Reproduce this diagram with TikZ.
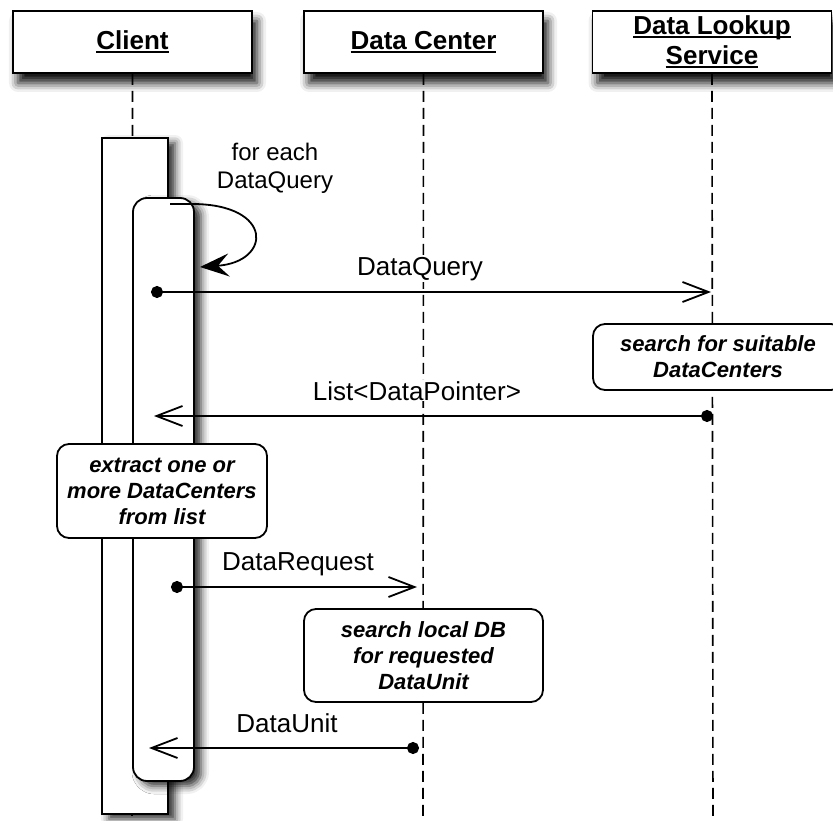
\documentclass[tikz,border=0pt]{standalone}
\usepackage{fontspec}
\setmainfont{Liberation Sans}
\usetikzlibrary{arrows.meta,shadows.blur}

% underlined header text
\newcommand{\hdrline}[1]{\setbox0\hbox{#1}\rlap{\rule[-3pt]{\wd0}{1.5pt}}\box0}

\begin{document}
\begin{tikzpicture}[x=1pt,y=-1pt,
    head/.style={draw,line width=1.8pt,fill=white,minimum width=239pt,minimum height=62pt,
      inner sep=0pt,align=center,font=\fontsize{26}{30}\selectfont\bfseries,
      blur shadow={shadow xshift=5pt,shadow yshift=-10pt,shadow blur radius=9pt,shadow opacity=95}},
    life/.style={line width=1.6pt,dash pattern=on 11pt off 6pt},
    bar/.style={draw,line width=1.8pt,fill=white,inner sep=0pt,
      blur shadow={shadow xshift=7pt,shadow yshift=-5pt,shadow blur radius=8pt,shadow opacity=85}},
    note/.style={draw,line width=1.8pt,fill=white,rounded corners=12pt,align=center,inner sep=0pt,
      font=\fontsize{22}{26}\selectfont\bfseries\itshape},
    msg/.style={line width=1.8pt,{Circle[length=12pt]}-{Straight Barb[length=26pt,width=20pt]}},
    lbl/.style={fill=white,inner sep=1pt,anchor=base,font=\fontsize{26}{30}\selectfont}]
    \useasboundingbox (0,0) rectangle (833,821);

    % lifeline heads
    \node[head] (cl) at (132.5,42) {\hdrline{Client}};
    \node[head] (dc) at (423.5,42) {\hdrline{Data Center}};
    \node[head] (dls) at (712,42) {\hdrline{Data Lookup}\\\hdrline{Service}};
    \coordinate (cl-end) at (132,821);
    \coordinate (dc-end) at (423,821);
    \coordinate (dls-end) at (713,821);
    \draw[life] (cl.south) -- (cl-end);
    \draw[life] (dc.south) -- (dc-end);
    \draw[life] (dls.south) -- (dls-end);

    % activations on the client
    \node[bar,minimum width=66pt,minimum height=676pt] (act) at (135,476) {};
    \node[bar,rounded corners=14pt,minimum width=61pt,minimum height=583pt] (loop) at (163.5,489.5) {};

    % self call, one per query
    \coordinate (loop-a) at (170,204);
    \coordinate (loop-b) at (200,267);
    \draw[line width=1.8pt,-{Stealth[length=29pt,width=23pt,inset=11pt]}]
        (loop-a) -- ++(22,0) .. controls (274,204) and (272,262) .. (loop-b);
    \node[align=center,font=\fontsize{24}{28}\selectfont] (each) at (275,168) {for each\\DataQuery};

    % messages
    \coordinate (q-from) at (151,292);
    \coordinate (q-to) at (711,292);
    \coordinate (p-from) at (713,416);
    \coordinate (p-to) at (154,416);
    \coordinate (r-from) at (171,587);
    \coordinate (r-to) at (417,587);
    \coordinate (u-from) at (419,748);
    \coordinate (u-to) at (149,748);
    \draw[msg] (q-from) -- (q-to);
    \draw[msg] (p-from) -- (p-to);
    \draw[msg] (r-from) -- (r-to);
    \draw[msg] (u-from) -- (u-to);
    \node[lbl] (q-lbl) at (420,276) {DataQuery};
    \node[lbl] (p-lbl) at (417,400) {List<DataPointer>};
    \node[lbl] (r-lbl) at (298,570) {DataRequest};
    \node[lbl] (u-lbl) at (287,732) {DataUnit};

    % notes
    \node[note,minimum width=250pt,minimum height=66pt] (n-search) at (718,357)
        {search for suitable\\DataCenters};
    \node[note,minimum width=210pt,minimum height=94pt] (n-extract) at (162,491)
        {extract one or\\more DataCenters\\from list};
    \node[note,minimum width=239pt,minimum height=93pt] (n-local) at (423.5,655.5)
        {search local DB\\for requested\\DataUnit};
\end{tikzpicture}
\end{document}
